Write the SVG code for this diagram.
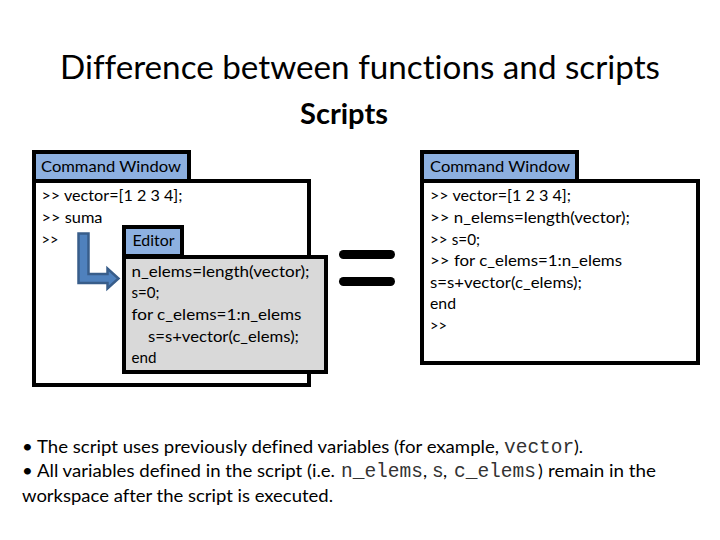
<svg xmlns="http://www.w3.org/2000/svg" width="720" height="540" viewBox="0 0 720 540">
<style>
text{font-family:"Lato","Open Sans","Liberation Sans",sans-serif;fill:#000;white-space:pre;font-variant-ligatures:none}
.t{font-size:16px}
.b{font-size:18px}
.m{font-family:"Liberation Mono",monospace;font-size:19.500px;fill:#333}
.box{stroke:#000;stroke-width:4}
.tab{fill:#8DB0E0}
.win{fill:#fff}
.ed{fill:#D9D9D9}
</style>
<rect width="720" height="540" fill="#fff"/>
<text x="60" y="79" font-size="32" textLength="600" lengthAdjust="spacingAndGlyphs">Difference between functions and scripts</text>
<text x="300" y="124" font-size="28" font-weight="700" textLength="88" lengthAdjust="spacingAndGlyphs">Scripts</text>
<g id="left-window">
<rect class="box win" x="34" y="181" width="275" height="204"/>
<rect class="box tab" x="34" y="152" width="155" height="29"/>
<text class="t" x="41" y="172" textLength="140" lengthAdjust="spacingAndGlyphs">Command Window</text>
<text class="t" x="41.500" y="201" textLength="141" lengthAdjust="spacingAndGlyphs">&gt;&gt; vector=[1 2 3 4];</text>
<text class="t" x="41.500" y="223" textLength="61" lengthAdjust="spacingAndGlyphs">&gt;&gt; suma</text>
<text class="t" x="41.500" y="245" textLength="17" lengthAdjust="spacingAndGlyphs">&gt;&gt;</text>
</g>
<g id="connectors">
<path d="M78.500 233.500H88.500V274H107.500V268.500L118.500 278.500L107.500 288.500V283H78.500Z" fill="#4F81BD" stroke="#385D8A" stroke-width="2.500"/>
</g>
<g id="editor">
<rect class="box ed" x="124" y="257" width="202" height="115"/>
<rect class="box tab" x="124" y="227" width="58" height="29"/>
<text class="t" x="132.500" y="246" textLength="42" lengthAdjust="spacingAndGlyphs">Editor</text>
<text class="t" x="131.500" y="277" textLength="178" lengthAdjust="spacingAndGlyphs">n_elems=length(vector);</text>
<text class="t" x="131.500" y="298" textLength="28" lengthAdjust="spacingAndGlyphs">s=0;</text>
<text class="t" x="131.500" y="320" textLength="170" lengthAdjust="spacingAndGlyphs">for c_elems=1:n_elems</text>
<text class="t" x="148" y="342" textLength="151" lengthAdjust="spacingAndGlyphs">s=s+vector(c_elems);</text>
<text class="t" x="131.500" y="363" textLength="25" lengthAdjust="spacingAndGlyphs">end</text>
</g>
<g id="equals">
<rect x="339" y="250" width="56" height="9" rx="4.500"/>
<rect x="339" y="277" width="56" height="9" rx="4.500"/>
</g>
<g id="right-window">
<rect class="box win" x="422" y="181" width="276" height="182"/>
<rect class="box tab" x="422" y="152" width="155" height="29"/>
<text class="t" x="430" y="172" textLength="140" lengthAdjust="spacingAndGlyphs">Command Window</text>
<text class="t" x="430" y="201" textLength="141" lengthAdjust="spacingAndGlyphs">&gt;&gt; vector=[1 2 3 4];</text>
<text class="t" x="430" y="223" textLength="200" lengthAdjust="spacingAndGlyphs">&gt;&gt; n_elems=length(vector);</text>
<text class="t" x="430" y="245" textLength="50" lengthAdjust="spacingAndGlyphs">&gt;&gt; s=0;</text>
<text class="t" x="430" y="266" textLength="192" lengthAdjust="spacingAndGlyphs">&gt;&gt; for c_elems=1:n_elems</text>
<text class="t" x="430" y="288" textLength="152" lengthAdjust="spacingAndGlyphs">s=s+vector(c_elems);</text>
<text class="t" x="430" y="309" textLength="26" lengthAdjust="spacingAndGlyphs">end</text>
<text class="t" x="430" y="331" textLength="17" lengthAdjust="spacingAndGlyphs">&gt;&gt;</text>
</g>
<g id="notes">
<text class="b" x="22" y="453" textLength="477" lengthAdjust="spacingAndGlyphs">• The script uses previously defined variables (for example,</text>
<text class="m" x="504" y="453">vector</text>
<text class="b" x="574" y="453">).</text>
<text class="b" x="22" y="477" textLength="313" lengthAdjust="spacingAndGlyphs">• All variables defined in the script (i.e.</text>
<text class="m" x="341" y="477">n_elems</text>
<text class="b" x="423" y="477">,</text>
<text class="m" x="432" y="477">s</text>
<text class="b" x="443" y="477">,</text>
<text class="m" x="454" y="477">c_elems</text>
<text class="b" x="538" y="477">)</text>
<text class="b" x="548" y="477" textLength="108" lengthAdjust="spacingAndGlyphs">remain in the</text>
<text class="b" x="22" y="502" textLength="311" lengthAdjust="spacingAndGlyphs">workspace after the script is executed.</text>
</g>
</svg>
